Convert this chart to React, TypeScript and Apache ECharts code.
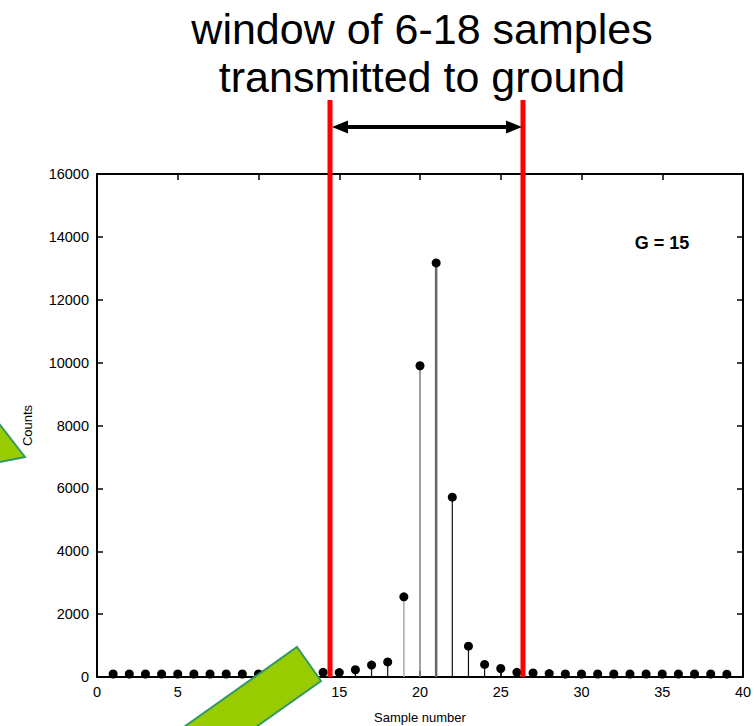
import React, { useEffect, useRef } from "react";
import * as echarts from "echarts";

const sampleNumbers = [1, 2, 3, 4, 5, 6, 7, 8, 9, 10, 11, 12, 13, 14, 15, 16, 17, 18, 19, 20, 21, 22, 23, 24, 25, 26, 27, 28, 29, 30, 31, 32, 33, 34, 35, 36, 37, 38, 39];
const counts = [95, 95, 95, 95, 95, 95, 95, 95, 95, 95, 95, 100, 110, 150, 140, 230, 380, 480, 2550, 9900, 13170, 5720, 980, 400, 270, 150, 130, 110, 95, 95, 95, 95, 95, 95, 95, 95, 95, 95, 90];
const xTicks = [0, 5, 10, 15, 20, 25, 30, 35, 40];
const yTicks = [0, 2000, 4000, 6000, 8000, 10000, 12000, 14000, 16000];
const titleLines = ["window of 6-18 samples", "transmitted to ground"];
const gainLabel = "G = 15";

const FONT = "'Liberation Sans', Arial, sans-serif";

function stemStyle(x: number) {
  if (x === 19) return { stroke: "#aaaaaa", lineWidth: 1.5 };
  if (x === 20) return { stroke: "#808080", lineWidth: 1.5 };
  if (x === 21) return { stroke: "#666666", lineWidth: 2.5 };
  return { stroke: "#111111", lineWidth: 1.2 };
}

export default function App() {
  const ref = useRef<HTMLDivElement>(null);
  useEffect(() => {
    if (!ref.current) return;
    const chart = echarts.init(ref.current, null, { renderer: "svg" });
    const points = sampleNumbers.map((x, i) => [x, counts[i]]);
    const axisLabelStyle = { color: "#000", fontFamily: FONT, fontSize: 14.5 };
    const tick = { show: true, inside: true, length: 6, lineStyle: { color: "#000", width: 1.5 } };
    const line = { show: true, onZero: false, lineStyle: { color: "#000", width: 2 } };
    chart.setOption({
      animation: false,
      backgroundColor: "#fff",
      grid: { left: 97, right: 11, top: 174, bottom: 49, containLabel: false, outerBoundsMode: "none" },
      xAxis: [
        {
          type: "value",
          min: xTicks[0],
          max: xTicks[xTicks.length - 1],
          interval: 5,
          position: "bottom",
          name: "Sample number",
          nameLocation: "middle",
          nameGap: 34,
          nameTextStyle: { color: "#000", fontFamily: FONT, fontSize: 13 },
          axisLine: line,
          axisTick: tick,
          axisLabel: { ...axisLabelStyle, margin: 7, formatter: (v: number) => String(v) },
          splitLine: { show: false },
        },
        {
          type: "value",
          min: xTicks[0],
          max: xTicks[xTicks.length - 1],
          interval: 5,
          position: "top",
          axisLine: line,
          axisTick: tick,
          axisLabel: { show: false },
          splitLine: { show: false },
        },
      ],
      yAxis: [
        {
          type: "value",
          min: yTicks[0],
          max: yTicks[yTicks.length - 1],
          interval: 2000,
          position: "left",
          name: "Counts",
          nameLocation: "middle",
          nameGap: 63,
          nameRotate: 90,
          nameTextStyle: { color: "#000", fontFamily: FONT, fontSize: 13 },
          axisLine: line,
          axisTick: tick,
          axisLabel: { ...axisLabelStyle, margin: 8, formatter: (v: number) => String(v) },
          splitLine: { show: false },
        },
        {
          type: "value",
          min: yTicks[0],
          max: yTicks[yTicks.length - 1],
          interval: 2000,
          position: "right",
          axisLine: line,
          axisTick: tick,
          axisLabel: { show: false },
          splitLine: { show: false },
        },
      ],
      series: [
        {
          type: "custom",
          xAxisIndex: 0,
          yAxisIndex: 0,
          data: points,
          renderItem: (params: any, api: any) => {
            const x = api.value(0);
            const y = api.value(1);
            const p0 = api.coord([x, 0]);
            const p1 = api.coord([x, y]);
            return {
              type: "line",
              shape: { x1: p0[0], y1: p0[1], x2: p1[0], y2: p1[1] },
              style: stemStyle(x),
            };
          },
          z: 2,
        },
        {
          type: "scatter",
          xAxisIndex: 0,
          yAxisIndex: 0,
          data: points,
          symbol: "circle",
          symbolSize: 9,
          itemStyle: { color: "#000", opacity: 1 },
          z: 3,
        },
      ],
      graphic: [
        {
          type: "text",
          style: {
            text: titleLines[0],
            x: 422,
            y: 29,
            fontFamily: FONT,
            fontSize: 43,
            fill: "#000",
            align: "center",
            verticalAlign: "middle",
          },
          z: 10,
        },
        {
          type: "text",
          style: {
            text: titleLines[1],
            x: 422,
            y: 77,
            fontFamily: FONT,
            fontSize: 43,
            fill: "#000",
            align: "center",
            verticalAlign: "middle",
          },
          z: 10,
        },
        {
          type: "text",
          style: {
            text: gainLabel,
            x: 662,
            y: 243,
            fontFamily: FONT,
            fontSize: 18,
            fontWeight: "bold",
            fill: "#000",
            align: "center",
            verticalAlign: "middle",
          },
          z: 10,
        },
        { type: "rect", shape: { x: 327.5, y: 100, width: 5, height: 577 }, style: { fill: "#ff0000" }, z: 20 },
        { type: "rect", shape: { x: 520.5, y: 100, width: 5, height: 577 }, style: { fill: "#ff0000" }, z: 20 },
        { type: "line", shape: { x1: 344, y1: 127, x2: 510, y2: 127 }, style: { stroke: "#000", lineWidth: 4 }, z: 20 },
        { type: "polygon", shape: { points: [[332, 127], [348, 120.5], [348, 133.5]] }, style: { fill: "#000" }, z: 20 },
        { type: "polygon", shape: { points: [[522, 127], [506, 120.5], [506, 133.5]] }, style: { fill: "#000" }, z: 20 },
        {
          type: "polygon",
          shape: { points: [[-20, 399], [25, 457], [-20, 466]] },
          style: { fill: "#99cc00", stroke: "#339966", lineWidth: 2 },
          z: 30,
        },
        {
          type: "polygon",
          shape: { points: [[297, 647], [321, 681], [198, 768], [174, 734]] },
          style: { fill: "#99cc00", stroke: "#339966", lineWidth: 2 },
          z: 30,
        },
      ],
    });
    return () => chart.dispose();
  }, []);
  return <div ref={ref} style={{ width: 754, height: 726, position: "absolute", left: 0, top: 0 }} />;
}
